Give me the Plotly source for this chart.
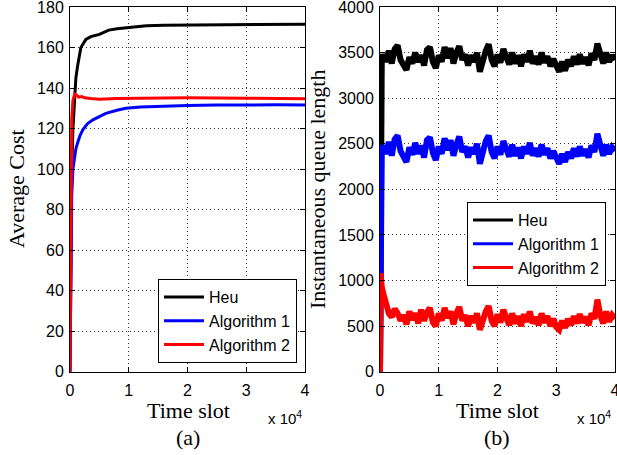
import plotly.graph_objects as go

# ---------------- (a) Average cost ----------------
heu_cost_t = [0, 100, 200, 300, 500, 730, 1000, 1300, 1850, 2700, 3550, 5000, 6600, 8000, 9500, 11000, 13000, 16000, 20000, 25000, 30000, 35000, 40000]
heu_cost = [0, 40, 80, 100, 120, 131.6, 145, 151, 160, 164, 165.4, 166.5, 168.6, 169.3, 169.8, 170.3, 170.8, 171.0, 171.1, 171.3, 171.5, 171.4, 171.5]

alg1_cost_t = [0, 100, 200, 300, 500, 800, 1000, 1300, 1700, 2200, 3000, 3900, 5000, 6100, 8000, 9500, 12000, 16000, 20000, 25000, 30000, 35000, 40000]
alg1_cost = [0, 40, 70, 88, 100, 107, 110, 113, 116.5, 119.5, 122.5, 124.3, 126, 127.5, 129, 130, 130.7, 131.1, 131.4, 131.6, 131.8, 131.7, 131.6]

alg2_cost_t = [0, 100, 200, 300, 500, 800, 1100, 1500, 2000, 2500, 3500, 5000, 8000, 12000, 20000, 30000, 40000]
alg2_cost = [0, 60, 105, 125, 134, 137, 136.5, 135.5, 135.8, 135.2, 134.8, 134.5, 134.8, 135.0, 135.2, 135.0, 134.7]

# ---------------- (b) Instantaneous queue length ----------------
queue_t = [0, 100, 200, 300,
           500, 1000, 1500, 2000, 2500, 3000, 3500, 4000, 4500, 5000,
           5500, 6000, 6500, 7000, 7500, 8000, 8500, 9000, 9500, 10000,
           10500, 11000, 11500, 12000, 12500, 13000, 13500, 14000, 14500, 15000,
           15500, 16000, 16500, 17000, 17500, 18000, 18500, 19000, 19500, 20000,
           20500, 21000, 21500, 22000, 22500, 23000, 23500, 24000, 24500, 25000,
           25500, 26000, 26500, 27000, 27500, 28000, 28500, 29000, 29500, 30000,
           30500, 31000, 31500, 32000, 32500, 33000, 33500, 34000, 34500, 35000,
           35500, 36000, 36500, 37000, 37500, 38000, 38500, 39000, 39500, 40000]

heu_queue = [0, 2600, 3300, 3420,
             3480, 3400, 3520, 3380, 3540, 3580, 3420, 3360, 3310, 3450,
             3380, 3500, 3400, 3470, 3360, 3530, 3560, 3400, 3330, 3470,
             3400, 3560, 3440, 3550, 3380, 3500, 3570, 3420, 3480, 3360,
             3470, 3400, 3500, 3290, 3420, 3520, 3590, 3420, 3350, 3480,
             3390, 3540, 3450, 3370, 3500, 3380, 3470, 3350, 3480, 3400,
             3520, 3380, 3460, 3370, 3500, 3390, 3460, 3350, 3430, 3340,
             3290, 3400, 3300, 3420, 3350, 3460, 3370, 3480, 3380, 3450,
             3360, 3490, 3420, 3600, 3480, 3380, 3500, 3400, 3470, 3420]

alg1_queue = [0, 1800, 2350, 2440,
              2480, 2390, 2520, 2370, 2550, 2590, 2420, 2350, 2300, 2460,
              2380, 2510, 2390, 2480, 2350, 2540, 2570, 2400, 2320, 2470,
              2390, 2560, 2430, 2540, 2370, 2490, 2580, 2410, 2470, 2350,
              2460, 2390, 2500, 2280, 2410, 2530, 2590, 2410, 2340, 2470,
              2380, 2530, 2440, 2360, 2490, 2370, 2460, 2340, 2470, 2390,
              2510, 2370, 2450, 2360, 2490, 2380, 2450, 2340, 2420, 2330,
              2280, 2390, 2300, 2410, 2340, 2450, 2360, 2470, 2370, 2440,
              2350, 2480, 2410, 2610, 2470, 2370, 2490, 2390, 2460, 2420]

alg2_queue = [0, 1080, 1000, 930,
              870, 720, 640, 600, 690, 640, 560, 620, 520, 660,
              570, 640, 530, 680, 560, 650, 700, 540, 500, 640,
              560, 700, 590, 660, 520, 640, 710, 560, 620, 500,
              610, 540, 640, 460, 570, 660, 720, 560, 500, 630,
              540, 680, 590, 510, 640, 530, 610, 500, 630, 550,
              660, 530, 600, 510, 640, 540, 610, 500, 580, 490,
              460, 560, 480, 580, 510, 610, 530, 630, 540, 600,
              510, 640, 580, 790, 620, 530, 660, 550, 620, 580]

series_names = ["Heu", "Algorithm 1", "Algorithm 2"]
series_colors = ["#000000", "#0000ff", "#ff0000"]
x_tickvals = [0, 10000, 20000, 30000, 40000]
x_ticktext = ["0", "1", "2", "3", "4"]

W, H = 617, 455

fig = go.Figure()

cost_data = [(heu_cost_t, heu_cost), (alg1_cost_t, alg1_cost), (alg2_cost_t, alg2_cost)]
for (tx, ty), name, col in zip(cost_data, series_names, series_colors):
    fig.add_trace(go.Scatter(x=tx, y=ty, mode="lines", name=name,
                             line=dict(color=col, width=3),
                             xaxis="x", yaxis="y", legend="legend"))

queue_data = [heu_queue, alg1_queue, alg2_queue]
for ty, name, col in zip(queue_data, series_names, series_colors):
    fig.add_trace(go.Scatter(x=queue_t, y=ty, mode="lines", name=name,
                             line=dict(color=col, width=6), showlegend=False,
                             xaxis="x2", yaxis="y2"))
# legend entries for panel (b), drawn with the thinner legend stroke
for name, col in zip(series_names, series_colors):
    fig.add_trace(go.Scatter(x=[None], y=[None], mode="lines", name=name,
                             line=dict(color=col, width=3),
                             xaxis="x2", yaxis="y2", legend="legend2"))

tickfont = dict(family="Liberation Sans, Arial, sans-serif", size=16, color="black")
common = dict(showline=True, linecolor="black", linewidth=1, mirror="allticks",
              ticks="inside", ticklen=5, tickcolor="black", showgrid=True,
              gridcolor="#333333", griddash="1px,3px", gridwidth=1, zeroline=False,
              tickfont=tickfont, automargin=False, ticklabeloverflow="allow")

ydom = [(H - 371.7) / H, (H - 7) / H]
legfont = dict(family="Liberation Sans, Arial, sans-serif", size=16, color="black")
fig.update_layout(
    width=W, height=H,
    margin=dict(l=0, r=0, t=0, b=0, autoexpand=False),
    paper_bgcolor="white", plot_bgcolor="white",
    xaxis=dict(domain=[70 / W, 305 / W], range=[0, 40000], tickvals=x_tickvals,
               ticktext=x_ticktext, anchor="y", ticklabelstandoff=4, **common),
    yaxis=dict(domain=ydom, range=[0, 180], dtick=20, anchor="x", ticklabelstandoff=2, **common),
    xaxis2=dict(domain=[380 / W, 615 / W], range=[0, 40000], tickvals=x_tickvals,
                ticktext=x_ticktext, anchor="y2", ticklabelstandoff=4, **common),
    yaxis2=dict(domain=ydom, range=[0, 4000], dtick=500, anchor="x2", ticklabelstandoff=2, **common),
    legend=dict(x=297 / W, y=(H - 363) / H, xanchor="right", yanchor="bottom",
                bgcolor="white", bordercolor="black", borderwidth=1,
                font=legfont, tracegroupgap=0, itemwidth=40),
    legend2=dict(x=606 / W, y=(H - 202) / H, xanchor="right", yanchor="top",
                 bgcolor="white", bordercolor="black", borderwidth=1,
                 font=legfont, tracegroupgap=0, itemwidth=40),
    showlegend=True,
)

serif = dict(family="Liberation Serif, Times New Roman, serif", size=22, color="black")
small = dict(family="Liberation Sans, Arial, sans-serif", size=15, color="black")
annos = [
    dict(text="Time slot", x=188 / W, y=(H - 410) / H, font=serif),
    dict(text="Time slot", x=497 / W, y=(H - 410) / H, font=serif),
    dict(text="(a)", x=188 / W, y=(H - 437) / H, font=serif),
    dict(text="(b)", x=497 / W, y=(H - 437) / H, font=serif),
    dict(text="Average Cost", x=17 / W, y=(H - 189) / H, font=serif, textangle=-90),
    dict(text="Instantaneous queue length", x=318 / W, y=(H - 189) / H, font=serif, textangle=-90),
    dict(text="x 10<sup>4</sup>", x=285 / W, y=(H - 417) / H, font=small),
    dict(text="x 10<sup>4</sup>", x=594 / W, y=(H - 417) / H, font=small),
]
for a in annos:
    fig.add_annotation(xref="paper", yref="paper", showarrow=False,
                       xanchor="center", yanchor="middle", **a)

fig.write_html("out.html", config={"displayModeBar": False},
               post_script="document.body.style.margin='0px';document.body.style.overflow='hidden';")
